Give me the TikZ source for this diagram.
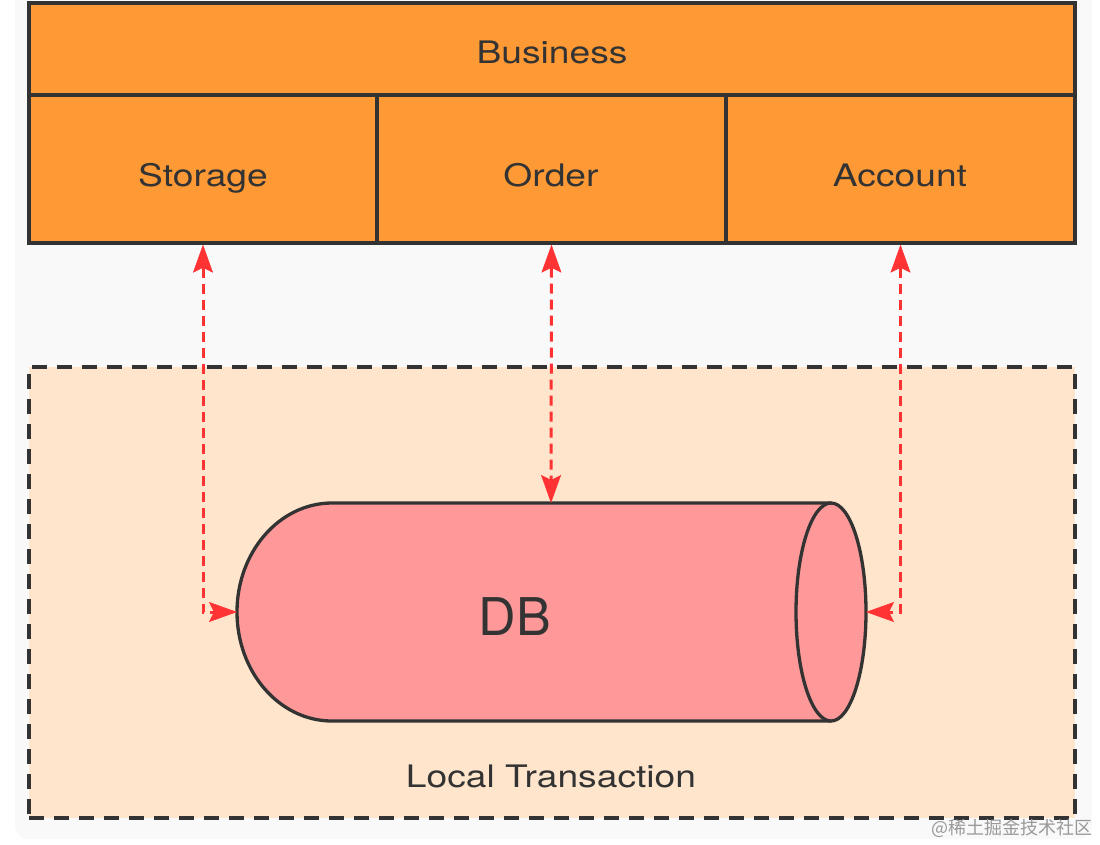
\documentclass[tikz,border=0pt]{standalone}
\usepackage{fontspec}
\setmainfont{TeX Gyre Heros}[FakeStretch=1.2]
\newfontfamily\plainheros{TeX Gyre Heros}
\newfontfamily\cjk{Noto Sans CJK SC}
\usetikzlibrary{arrows.meta}
\definecolor{bizorange}{HTML}{FE9A35}
\definecolor{peach}{HTML}{FFE5CC}
\definecolor{dbpink}{HTML}{FF9999}
\definecolor{linkred}{HTML}{FF3333}
\definecolor{ink}{HTML}{333333}
\definecolor{bggray}{HTML}{F9F9F9}
\tikzset{
  bizbox/.style={draw=ink, fill=bizorange, line width=3.3pt, rectangle, inner sep=0pt},
  label/.style={text=ink, inner sep=0pt, anchor=base, font=\fontsize{31}{36}\selectfont},
  linktip/.tip={Stealth[length=28pt,width=20pt,inset=5pt,fill=linkred,line width=0.5pt]},
  link/.style={draw=linkred, line width=3pt, dash pattern=on 10pt off 6pt, linktip-linktip},
  dbline/.style={draw=ink, line width=3.3pt},
}
\begin{document}
\begin{tikzpicture}[x=1pt,y=-1pt]
\useasboundingbox (0,0) rectangle (1100,844);
\fill[white] (0,0) rectangle (1100,844);
\fill[bggray, rounded corners=14pt] (15,-20) rectangle (1092,839);
% layers
\node[bizbox, minimum width=1046pt, minimum height=92pt] (business) at (552,49) {};
\node[bizbox, minimum width=348pt, minimum height=148pt] (storage) at (203,169) {};
\node[bizbox, minimum width=349pt, minimum height=148pt] (order) at (551.5,169) {};
\node[bizbox, minimum width=349pt, minimum height=148pt] (account) at (900.5,169) {};
\node[label] (businesstxt) at (552,63) {Business};
\node[label] (storagetxt) at (203,186) {Storage};
\node[label] (ordertxt) at (551,186) {Order};
\node[label] (accounttxt) at (900,186) {Account};
% local transaction area
\node[draw=ink, fill=peach, line width=3.3pt, dash pattern=on 15pt off 10pt, rectangle,
  minimum width=1046pt, minimum height=451pt, inner sep=0pt] (local) at (552,592.5) {};
\node[label] (localtxt) at (551,787) {Local Transaction};
% DB cylinder
\coordinate (dbL) at (237,612);
\coordinate (dbT) at (551,503);
\coordinate (dbR) at (866,612);
\fill[dbpink] (831,503) -- (332,503) arc[start angle=90, end angle=270, x radius=95pt, y radius=109pt] -- (831,721) -- cycle;
\draw[dbline] (831,503) -- (332,503) arc[start angle=90, end angle=270, x radius=95pt, y radius=109pt] -- (831,721);
\draw[dbline, fill=dbpink] (831,612) ellipse[x radius=35pt, y radius=109pt];
\node[label, font=\plainheros\fontsize{52}{60}\selectfont] (db) at (515,635) {DB};
% links
\draw[link] (storage.south) |- (dbL);
\draw[link] (order.south) -- (dbT);
\draw[link] (account.south) |- (dbR);
% watermark
\node[text=black!40, inner sep=0pt, font=\cjk\fontsize{18}{20}\selectfont] (wm) at (1012,828) {@稀土掘金技术社区};
\end{tikzpicture}
\end{document}
